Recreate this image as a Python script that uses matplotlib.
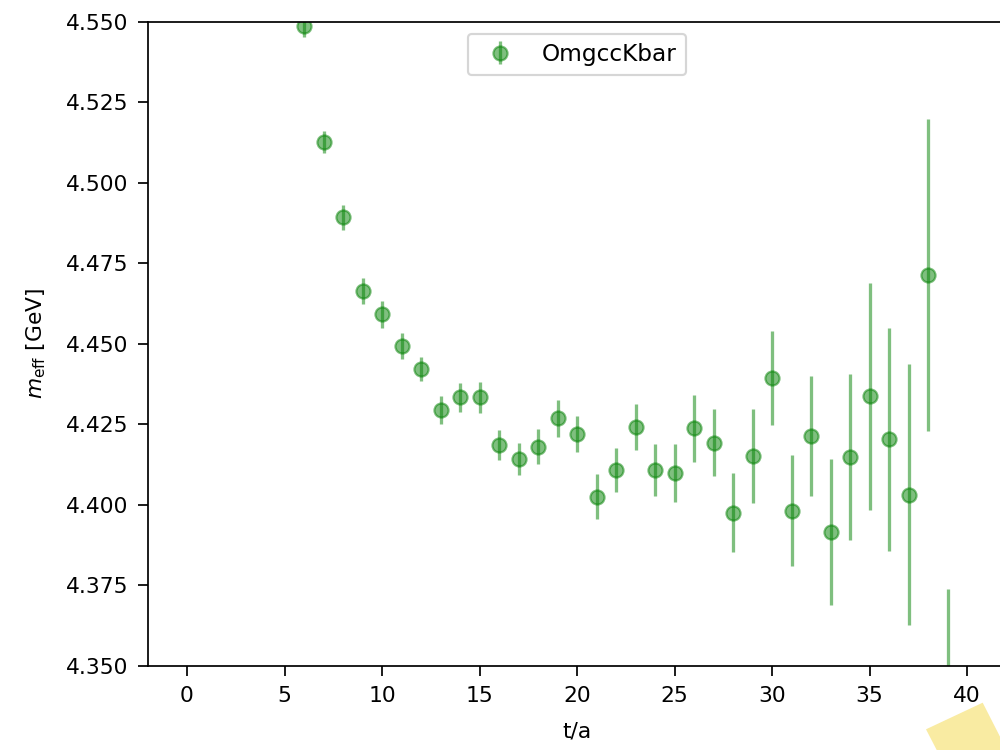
import numpy as np
import matplotlib.pyplot as plt
from matplotlib.patches import Polygon

# effective mass data (t/a, m_eff, error)
t = [6, 7, 8, 9, 10, 11, 12, 13, 14, 15, 16, 17, 18, 19, 20, 21, 22,
     23, 24, 25, 26, 27, 28, 29, 30, 31, 32, 33, 34, 35, 36, 37, 38, 39]
meff = [4.5486, 4.5127, 4.4894, 4.4665, 4.4592, 4.4493, 4.4423, 4.4295,
        4.4334, 4.4334, 4.4186, 4.4143, 4.4181, 4.4269, 4.4221, 4.4026,
        4.4109, 4.4243, 4.4109, 4.4099, 4.4238, 4.4194, 4.3976, 4.4152,
        4.4393, 4.3982, 4.4215, 4.3916, 4.4149, 4.4337, 4.4204, 4.4032,
        4.4714, 4.325]
err = [0.0034, 0.0035, 0.0039, 0.0041, 0.0041, 0.0040, 0.0038, 0.0043,
       0.0044, 0.0049, 0.0047, 0.0050, 0.0054, 0.0058, 0.0055, 0.0070,
       0.0069, 0.0071, 0.0080, 0.0091, 0.0103, 0.0105, 0.0123, 0.0147,
       0.0146, 0.0172, 0.0186, 0.0227, 0.0258, 0.0352, 0.0347, 0.0405,
       0.0484, 0.0488]

fig = plt.figure(figsize=(6.4, 4.8), dpi=156.25)
ax = fig.add_axes([0.148, 0.112, 0.858, 0.8587])

ax.errorbar(t, meff, yerr=err, fmt='o', color='g', ms=6.5, alpha=0.5,
            label='OmgccKbar')

ax.set_xlim(-2, 42)
ax.set_ylim(4.35, 4.55)
ax.set_xticks([0, 5, 10, 15, 20, 25, 30, 35, 40])
ax.tick_params(length=4.6, pad=4.6)
ax.set_xlabel('t/a', labelpad=7)
ax.set_ylabel(r'$m_{\mathrm{eff}}$ [GeV]', labelpad=8)
ax.legend(loc='upper center', fontsize=10.7)

# yellow sticker in the lower right corner
sticker = Polygon([(0.926, 0.0276), (0.9827, 0.0631), (1.0173, -0.0276),
                   (0.9474, -0.0276)], closed=True, transform=fig.transFigure,
                  facecolor='#f9eba2', edgecolor='none')
fig.patches.append(sticker)

fig.savefig('out.png', dpi=156.25)
